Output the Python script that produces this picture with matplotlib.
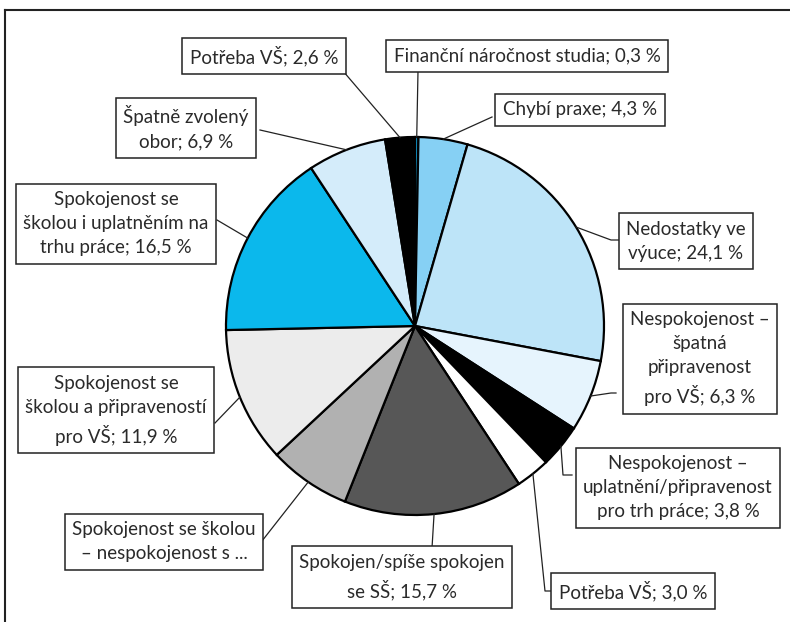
import numpy as np
import matplotlib
matplotlib.use("Agg")
import matplotlib.pyplot as plt

# data (clockwise from 12 o'clock)
labels = [
    "Finanční náročnost studia; 0,3 %",
    "Chybí praxe; 4,3 %",
    "Nedostatky ve\nvýuce; 24,1 %",
    "Nespokojenost –\nšpatná\npřipravenost\npro VŠ; 6,3 %",
    "Nespokojenost –\nuplatnění/připravenost\npro trh práce; 3,8 %",
    "Potřeba VŠ; 3,0 %",
    "Spokojen/spíše spokojen\nse SŠ; 15,7 %",
    "Spokojenost se školou\n– nespokojenost s ...",
    "Spokojenost se\nškolou a připraveností\npro VŠ; 11,9 %",
    "Spokojenost se\nškolou i uplatněním na\ntrhu práce; 16,5 %",
    "Špatně zvolený\nobor; 6,9 %",
    "Potřeba VŠ; 2,6 %",
]
values = [0.3, 4.3, 24.1, 6.3, 3.8, 3.0, 15.7, 7.2, 11.9, 16.5, 6.9, 2.6]
colors = ["#12a6e0", "#86d0f4", "#bde4f8", "#e6f4fd", "#000000", "#ffffff",
          "#575757", "#b1b1b1", "#ececec", "#0bb8ec", "#d4ecfa", "#000000"]

# layout in pixels (y from top): box centre, attach point, optional elbow
box_pos = [(527, 56), (580, 110), (686, 241), (700, 359), (678, 488), (633, 591),
           (402, 577), (164, 542), (116, 410), (116, 224), (186, 128), (264, 56)]
attach = [(418, 71), (492, 117), (619, 240), (616, 393), (572, 475), (553, 591),
          (432, 548), (262, 541), (215, 423), (217, 220), (260, 130), (343, 71)]
elbow = [None, None, (611, 240), (611, 393), (563, 475), (545, 591),
         None, None, None, None, None, None]

W, H = 790, 622
CX, CY, R = 415, 326, 189

plt.rcParams["font.family"] = ["Lato", "DejaVu Sans"]

fig = plt.figure(figsize=(W / 100, H / 100), dpi=100)
ax = fig.add_axes([0, 0, 1, 1])


def py(y):
    return H - y


wedges, _ = ax.pie(values, colors=colors, startangle=90, counterclock=False,
                   center=(CX, py(CY)), radius=R, frame=True,
                   wedgeprops=dict(edgecolor="black", linewidth=1.6))
ax.set_xlim(0, W)
ax.set_ylim(0, H)
ax.set_aspect("equal")
ax.axis("off")

# outer frame (only top and left visible)
ax.plot([5, W], [py(9.5), py(9.5)], color="#222222", lw=1.5, clip_on=False)
ax.plot([5, 5], [py(9.5), 0], color="#222222", lw=1.5, clip_on=False)

for w, lab, bp, ap, el in zip(wedges, labels, box_pos, attach, elbow):
    mid = np.deg2rad((w.theta1 + w.theta2) / 2)
    ex = CX + R * np.cos(mid)
    ey = py(CY) + R * np.sin(mid)
    xs = [ap[0]]
    ys = [py(ap[1])]
    if el is not None:
        xs.append(el[0])
        ys.append(py(el[1]))
    xs.append(ex)
    ys.append(ey)
    ax.plot(xs, ys, color="#222222", lw=0.9, zorder=3)
    ax.text(bp[0], py(bp[1]), lab, ha="center", va="center", fontsize=13.5,
            linespacing=1.5, color="#2a2a2a", zorder=4,
            bbox=dict(boxstyle="square,pad=0.4", fc="white", ec="#222222", lw=1.1))

fig.savefig("out.png", dpi=100)
